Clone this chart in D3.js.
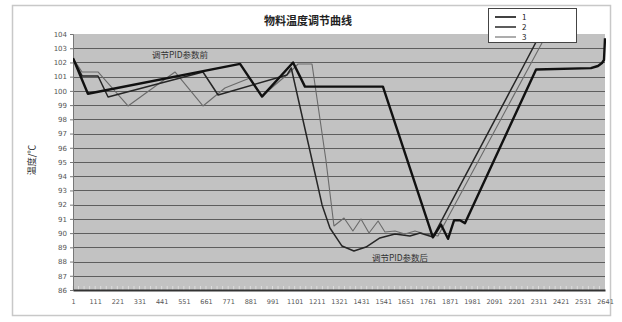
<!DOCTYPE html>
<html>
<head>
<meta charset="utf-8">
<script src="https://cdn.jsdelivr.net/npm/d3@7"></script>
<style>
  body { margin: 0; background: #fff; }
  svg { display: block; font-family: "Noto Sans CJK SC", "DejaVu Sans", sans-serif; }
</style>
</head>
<body>
<svg id="chart" width="622" height="322"></svg>
<script>
// Text
const titleText = "物料温度调节曲线";
const yAxisTitle = "温度/℃";
const noteBefore = "调节PID参数前";
const noteAfter = "调节PID参数后";
const seriesNames = ["1", "2", "3"];

// Axis ticks
const yTicks = [104, 103, 102, 101, 100, 99, 98, 97, 96, 95, 94, 93, 92, 91, 90, 89, 88, 87, 86];
const xTicks = [1, 111, 221, 331, 441, 551, 661, 771, 881, 991, 1101, 1211, 1321, 1431, 1541,
                1651, 1761, 1871, 1981, 2091, 2201, 2311, 2421, 2531, 2641];

// Series 1 (thick): sample index / temperature
const t1 = [1, 75, 830, 939, 1093, 1152, 1539, 1787, 1827, 1862, 1892, 1921, 1946, 2299, 2571, 2606, 2626, 2636, 2641];
const v1 = [102.3, 99.8, 101.9, 99.6, 102.0, 100.3, 100.3, 89.7, 90.6, 89.6, 90.9, 90.9, 90.7, 101.5, 101.6, 101.75, 101.96, 102.17, 103.7];

// Series 2 (medium)
const t2 = [1, 46, 125, 175, 646, 721, 1063, 1084, 1187, 1237, 1276, 1336, 1395, 1455, 1524, 1599, 1673, 1723, 1787, 2239, 2343];
const v2 = [102.3, 101.05, 101.05, 99.57, 101.33, 99.71, 101.12, 101.61, 95.14, 91.98, 90.36, 89.09, 88.74, 89.02, 89.66, 89.94, 89.8, 90.01, 89.73, 101.82, 104.63];

// Series 3 (thin, grey)
const t3 = [1, 46, 125, 274, 507, 646, 755, 879, 939, 1079, 1118, 1187, 1256, 1296, 1346, 1390, 1430, 1470, 1515, 1549, 1599, 1648, 1698, 1748, 1812, 2264, 2368];
const v3 = [102.3, 101.33, 101.33, 98.94, 101.33, 98.94, 100.2, 100.91, 99.64, 101.33, 101.89, 101.89, 95.14, 90.5, 91.06, 90.15, 90.99, 90.01, 90.85, 90.08, 90.15, 89.94, 90.15, 89.94, 89.8, 101.68, 104.42];

const svg = d3.select("#chart");
const plot = { left: 73, right: 605, top: 34, bottom: 290 };

const x = d3.scaleLinear().domain([1, 2641]).range([plot.left, plot.right]);
const y = d3.scaleLinear().domain([86, 104]).range([plot.bottom, plot.top]);

// Chart frame
svg.append("rect").attr("x", 12.5).attr("y", 5.5).attr("width", 598).attr("height", 310)
  .attr("fill", "#fff").attr("stroke", "#c8c8c8").attr("stroke-width", 1.5);

// Plot background
svg.append("rect").attr("x", plot.left).attr("y", plot.top)
  .attr("width", plot.right - plot.left).attr("height", plot.bottom - plot.top)
  .attr("fill", "#c2c2c2");

// Horizontal gridlines
svg.append("g").selectAll("line").data(yTicks.slice(1, -1)).join("line")
  .attr("x1", plot.left).attr("x2", plot.right)
  .attr("y1", d => Math.round(y(d)) + 0.5).attr("y2", d => Math.round(y(d)) + 0.5)
  .attr("stroke", "#5e5e5e").attr("stroke-width", 1);

// Minor category ticks along the bottom
const minorTicks = d3.range(1, 2641, 27.5);
svg.append("g").selectAll("line").data(minorTicks).join("line")
  .attr("x1", d => x(d)).attr("x2", d => x(d))
  .attr("y1", plot.bottom - 4).attr("y2", plot.bottom)
  .attr("stroke", "#e4e4e4").attr("stroke-width", 0.8);

// Axes
const yAxis = d3.axisLeft(y).tickValues(yTicks).tickSize(3).tickPadding(3).tickFormat(d3.format("d"));
const gy = svg.append("g").attr("transform", `translate(${plot.left},0)`).call(yAxis);
gy.select(".domain").attr("stroke", "#777");
gy.selectAll(".tick line").attr("stroke", "#777");
gy.selectAll("text").attr("font-size", 7).attr("fill", "#555").attr("font-family", "DejaVu Sans, sans-serif");

const xAxis = d3.axisBottom(x).tickValues(xTicks).tickSize(0).tickPadding(9).tickFormat(d3.format("d"));
const gx = svg.append("g").attr("transform", `translate(0,${plot.bottom})`).call(xAxis);
gx.select(".domain").attr("stroke", "#333").attr("stroke-width", 2);
gx.selectAll("text").attr("font-size", 6.5).attr("fill", "#555").attr("font-family", "DejaVu Sans, sans-serif");

// Lines, clipped to the plot area
svg.append("clipPath").attr("id", "plotClip").append("rect")
  .attr("x", plot.left).attr("y", plot.top)
  .attr("width", plot.right - plot.left + 1).attr("height", plot.bottom - plot.top);

const line = d3.line().x(d => x(d[0])).y(d => y(d[1]));
const series = [
  { t: t3, v: v3, color: "#6a6a6a", width: 1.1 },
  { t: t2, v: v2, color: "#262626", width: 1.5 },
  { t: t1, v: v1, color: "#111", width: 2.4 }
];
const lines = svg.append("g").attr("clip-path", "url(#plotClip)");
series.forEach(s => {
  lines.append("path").datum(d3.zip(s.t, s.v)).attr("d", line)
    .attr("fill", "none").attr("stroke", s.color).attr("stroke-width", s.width)
    .attr("stroke-linejoin", "round");
});

// Title
svg.append("text").attr("x", 308).attr("y", 25).attr("text-anchor", "middle")
  .attr("font-size", 11).attr("font-weight", "bold").attr("fill", "#222").text(titleText);

// Y axis title
svg.append("text").attr("transform", "translate(35,160) rotate(-90)").attr("text-anchor", "middle")
  .attr("font-size", 9).attr("fill", "#333").text(yAxisTitle);

// Annotations
svg.append("text").attr("x", 180).attr("y", 58).attr("text-anchor", "middle")
  .attr("font-size", 8.5).attr("fill", "#333").text(noteBefore);
svg.append("text").attr("x", 400).attr("y", 261).attr("text-anchor", "middle")
  .attr("font-size", 8.5).attr("fill", "#333").text(noteAfter);

// Legend
const legend = svg.append("g");
legend.append("rect").attr("x", 488.5).attr("y", 8.5).attr("width", 88).attr("height", 34)
  .attr("fill", "#fff").attr("stroke", "#444").attr("stroke-width", 1);
const legendStyles = [series[2], series[1], series[0]];
seriesNames.forEach((name, i) => {
  const ly = 17 + i * 10;
  legend.append("line").attr("x1", 495).attr("x2", 516).attr("y1", ly).attr("y2", ly)
    .attr("stroke", legendStyles[i].color).attr("stroke-width", Math.min(legendStyles[i].width, 1.6));
  legend.append("text").attr("x", 522).attr("y", ly + 3).attr("font-size", 8)
    .attr("fill", "#222").text(name);
});
</script>
</body>
</html>
